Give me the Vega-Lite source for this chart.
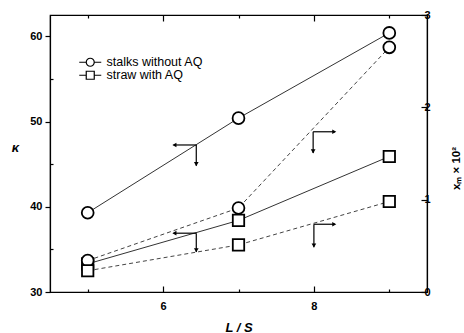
{
  "$schema": "https://vega.github.io/schema/vega-lite/v6.json",
  "width": 377,
  "height": 277,
  "autosize": {"type": "none"},
  "padding": {"left": 50, "top": 15, "right": 37, "bottom": 41},
  "background": "white",
  "config": {
    "view": {"stroke": "black", "strokeWidth": 1.2},
    "font": "Liberation Sans",
    "axis": {
      "labelFont": "Liberation Sans",
      "labelFontWeight": "bold",
      "labelFontSize": 11,
      "labelColor": "black",
      "titleColor": "black",
      "titleFont": "Liberation Sans",
      "domainColor": "black",
      "domainWidth": 1.2,
      "tickColor": "black",
      "tickWidth": 1.2,
      "grid": false
    }
  },
  "datasets": {
    "pts": [
      {"LS": 5, "value": 39.3, "series": "stalks without AQ", "measure": "kappa"},
      {"LS": 7, "value": 50.4, "series": "stalks without AQ", "measure": "kappa"},
      {"LS": 9, "value": 60.4, "series": "stalks without AQ", "measure": "kappa"},
      {"LS": 5, "value": 33.3, "series": "straw with AQ", "measure": "kappa"},
      {"LS": 7, "value": 38.4, "series": "straw with AQ", "measure": "kappa"},
      {"LS": 9, "value": 45.9, "series": "straw with AQ", "measure": "kappa"},
      {"LS": 5, "value": 0.34, "series": "stalks without AQ", "measure": "xm"},
      {"LS": 7, "value": 0.91, "series": "stalks without AQ", "measure": "xm"},
      {"LS": 9, "value": 2.65, "series": "stalks without AQ", "measure": "xm"},
      {"LS": 5, "value": 0.23, "series": "straw with AQ", "measure": "xm"},
      {"LS": 7, "value": 0.51, "series": "straw with AQ", "measure": "xm"},
      {"LS": 9, "value": 0.98, "series": "straw with AQ", "measure": "xm"}
    ],
    "arrows": [
      {"LS": 6.44, "value": 47.25, "LS2": 6.14, "value2": 47.25},
      {"LS": 6.44, "value": 47.25, "LS2": 6.44, "value2": 44.8},
      {"LS": 7.99, "value": 48.8, "LS2": 8.28, "value2": 48.8},
      {"LS": 7.99, "value": 48.8, "LS2": 7.99, "value2": 46.3},
      {"LS": 6.44, "value": 36.9, "LS2": 6.14, "value2": 36.9},
      {"LS": 6.44, "value": 36.9, "LS2": 6.44, "value2": 34.7},
      {"LS": 8.0, "value": 37.95, "LS2": 8.28, "value2": 37.95},
      {"LS": 8.0, "value": 37.95, "LS2": 8.0, "value2": 35.25}
    ],
    "heads": [
      {"LS": 6.15, "value": 47.25, "dir": "left"},
      {"LS": 6.44, "value": 45.0, "dir": "down"},
      {"LS": 8.27, "value": 48.8, "dir": "right"},
      {"LS": 7.99, "value": 46.5, "dir": "down"},
      {"LS": 6.15, "value": 36.9, "dir": "left"},
      {"LS": 6.44, "value": 34.9, "dir": "down"},
      {"LS": 8.27, "value": 37.95, "dir": "right"},
      {"LS": 8.0, "value": 35.45, "dir": "down"}
    ]
  },
  "layer": [
    {
      "layer": [
        {
          "data": {"name": "pts"},
          "transform": [{"filter": "datum.measure === 'kappa'"}],
          "mark": {"type": "line", "color": "#333333", "strokeWidth": 1},
          "encoding": {
            "x": {
              "field": "LS", "type": "quantitative",
              "scale": {"domain": [4.5, 9.5], "nice": false, "zero": false},
              "axis": {
                "orient": "bottom",
                "values": [5, 6, 7, 8, 9],
                "format": "d",
                "labelExpr": "datum.value % 2 === 0 ? datum.label : ''",
                "tickSize": {"condition": {"test": "datum.value % 2 === 0", "value": -6}, "value": -3},
                "labelPadding": 14,
                "title": "L / S",
                "titleFontStyle": "italic",
                "titleFontWeight": "bold",
                "titleFontSize": 13,
                "titlePadding": 10
              }
            },
            "y": {
              "field": "value", "type": "quantitative",
              "scale": {"domain": [30, 62.5], "nice": false, "zero": false},
              "axis": {
                "orient": "left",
                "values": [30, 35, 40, 45, 50, 55, 60],
                "format": "d",
                "labelExpr": "datum.value % 10 === 0 ? datum.label : ''",
                "tickSize": {"condition": {"test": "datum.value % 10 === 0", "value": 5}, "value": -3},
                "labelPadding": 3,
                "title": "κ",
                "titleAngle": 0,
                "titleFontStyle": "italic",
                "titleFontWeight": "bold",
                "titleFontSize": 13,
                "titleAlign": "center",
                "titleBaseline": "middle",
                "titleX": -35,
                "titleY": 132
              }
            },
            "detail": {"field": "series"}
          }
        },
        {
          "data": {"name": "arrows"},
          "mark": {"type": "rule", "color": "black", "strokeWidth": 1.2},
          "encoding": {
            "x": {"field": "LS", "type": "quantitative"},
            "y": {"field": "value", "type": "quantitative"},
            "x2": {"field": "LS2"},
            "y2": {"field": "value2"}
          }
        },
        {
          "data": {"name": "heads"},
          "transform": [{"filter": "datum.dir === 'left'"}],
          "mark": {"type": "point", "shape": "triangle-left", "filled": true, "color": "black", "opacity": 1, "size": 22},
          "encoding": {
            "x": {"field": "LS", "type": "quantitative"},
            "y": {"field": "value", "type": "quantitative"}
          }
        },
        {
          "data": {"name": "heads"},
          "transform": [{"filter": "datum.dir === 'right'"}],
          "mark": {"type": "point", "shape": "triangle-right", "filled": true, "color": "black", "opacity": 1, "size": 22},
          "encoding": {
            "x": {"field": "LS", "type": "quantitative"},
            "y": {"field": "value", "type": "quantitative"}
          }
        },
        {
          "data": {"name": "heads"},
          "transform": [{"filter": "datum.dir === 'down'"}],
          "mark": {"type": "point", "shape": "triangle-down", "filled": true, "color": "black", "opacity": 1, "size": 22},
          "encoding": {
            "x": {"field": "LS", "type": "quantitative"},
            "y": {"field": "value", "type": "quantitative"}
          }
        },
        {
          "data": {"name": "pts"},
          "transform": [{"filter": "datum.measure === 'kappa' && datum.series === 'stalks without AQ'"}],
          "mark": {"type": "point", "shape": "circle", "filled": true, "fill": "white", "stroke": "black", "strokeWidth": 1.8, "size": 140, "opacity": 1, "fillOpacity": 1, "strokeOpacity": 1},
          "encoding": {
            "x": {"field": "LS", "type": "quantitative"},
            "y": {"field": "value", "type": "quantitative"}
          }
        },
        {
          "data": {"name": "pts"},
          "transform": [{"filter": "datum.measure === 'kappa' && datum.series === 'straw with AQ'"}],
          "mark": {"type": "point", "shape": "square", "filled": true, "fill": "white", "stroke": "black", "strokeWidth": 1.8, "size": 130, "opacity": 1, "fillOpacity": 1, "strokeOpacity": 1},
          "encoding": {
            "x": {"field": "LS", "type": "quantitative"},
            "y": {"field": "value", "type": "quantitative"}
          }
        },
        {
          "data": {"name": "pts"},
          "transform": [{"filter": "datum.measure === 'legendonly'"}],
          "mark": {"type": "point", "filled": false, "stroke": "black", "strokeWidth": 1.3, "opacity": 1},
          "encoding": {
            "x": {"field": "LS", "type": "quantitative"},
            "y": {"field": "value", "type": "quantitative"},
            "shape": {
              "field": "series", "type": "nominal",
              "scale": {
                "domain": ["stalks without AQ", "straw with AQ"],
                "range": [
                  "M-2.75,0L-1,0M1,0L2.75,0M-1,0A1,1,0,1,0,1,0A1,1,0,1,0,-1,0Z",
                  "M-2.75,0L-1,0M1,0L2.75,0M-1,-1L1,-1L1,1L-1,1Z"
                ]
              },
              "legend": {
                "orient": "none",
                "legendX": 34,
                "legendY": 41,
                "title": null,
                "labelFont": "Liberation Sans",
                "labelFontSize": 12.5,
                "labelColor": "black",
                "symbolSize": 64,
                "symbolStrokeWidth": 1.2,
                "symbolStrokeColor": "black",
                "symbolFillColor": "white",
                "symbolOpacity": 1,
                "rowPadding": -3,
                "labelOffset": 10
              }
            }
          }
        }
      ]
    },
    {
      "data": {"name": "pts"},
      "transform": [{"filter": "datum.measure === 'xm'"}],
      "encoding": {
        "x": {
          "field": "LS", "type": "quantitative",
          "axis": {
            "orient": "top",
            "values": [5, 6, 7, 8, 9],
            "labels": false,
            "domain": false,
            "tickSize": {"condition": {"test": "datum.value % 2 === 0", "value": -6}, "value": -3},
            "title": null
          }
        },
        "y": {
          "field": "value", "type": "quantitative",
          "scale": {"domain": [0, 3], "nice": false, "zero": false},
          "axis": {
            "orient": "right",
            "values": [0, 0.5, 1, 1.5, 2, 2.5, 3],
            "format": "d",
            "labelExpr": "datum.value % 1 === 0 ? datum.label : ''",
            "tickSize": {"condition": {"test": "datum.value % 1 === 0", "value": -6}, "value": -3},
            "labelPadding": 3,
            "title": "xₘ × 10²",
            "titleFontWeight": "bold",
            "titleFontSize": 11.5,
            "titleAngle": 270,
            "titleAlign": "center",
            "titleBaseline": "middle",
            "titleX": 29,
            "titleY": 153
          }
        }
      },
      "layer": [
        {
          "mark": {"type": "line", "color": "#444444", "strokeWidth": 1, "strokeDash": [4, 3]},
          "encoding": {"detail": {"field": "series"}}
        },
        {
          "transform": [{"filter": "datum.series === 'stalks without AQ'"}],
          "mark": {"type": "point", "shape": "circle", "filled": true, "fill": "white", "stroke": "black", "strokeWidth": 1.8, "size": 140, "opacity": 1, "fillOpacity": 1, "strokeOpacity": 1}
        },
        {
          "transform": [{"filter": "datum.series === 'straw with AQ'"}],
          "mark": {"type": "point", "shape": "square", "filled": true, "fill": "white", "stroke": "black", "strokeWidth": 1.8, "size": 130, "opacity": 1, "fillOpacity": 1, "strokeOpacity": 1}
        }
      ]
    }
  ],
  "resolve": {
    "scale": {"y": "independent"},
    "axis": {"x": "independent", "y": "independent"}
  }
}
